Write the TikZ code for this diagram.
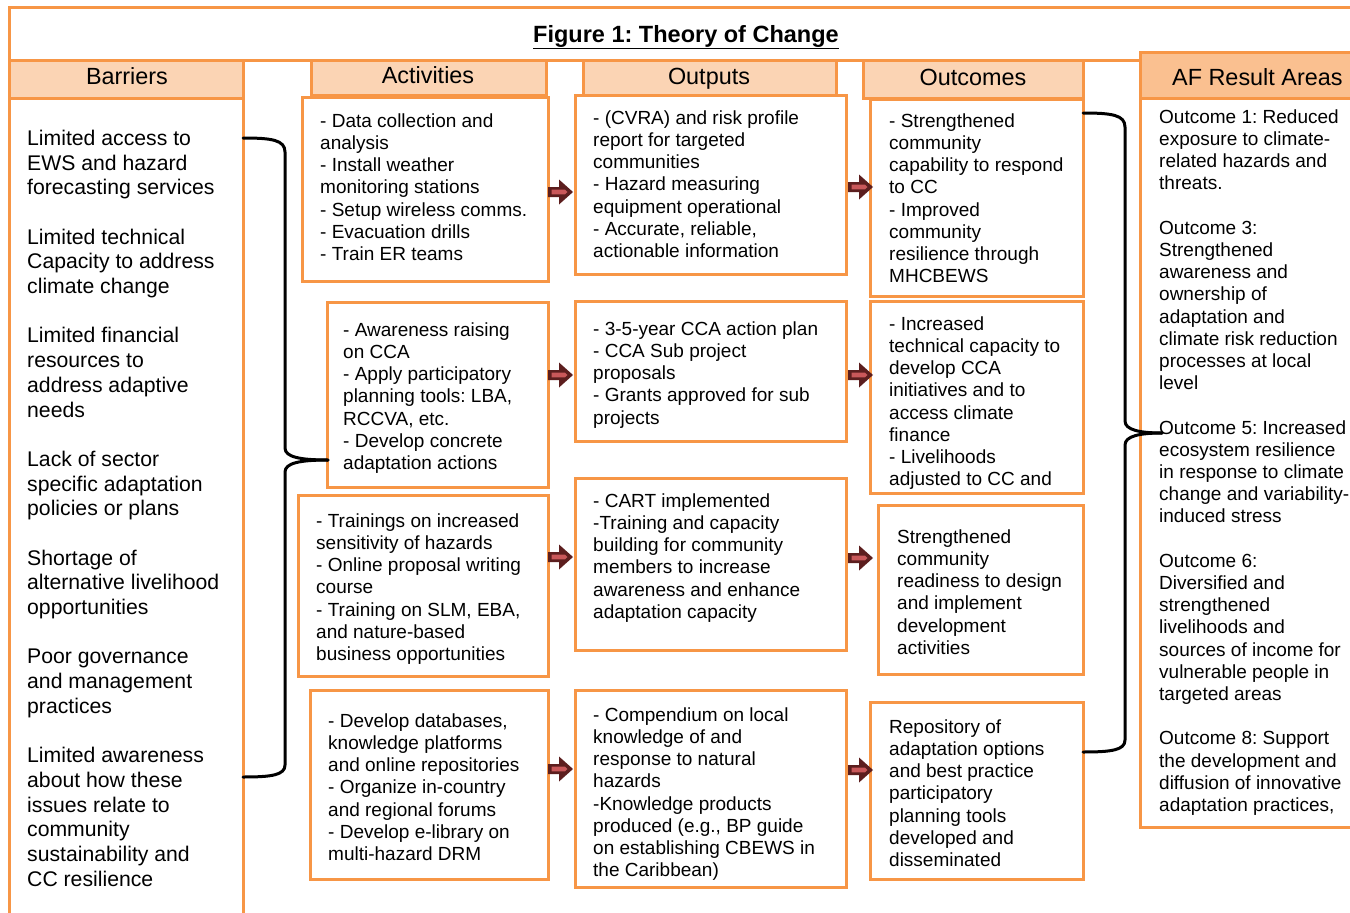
\documentclass[tikz,border=0pt]{standalone}
\usepackage{fontspec}
\setmainfont{Liberation Sans}
\frenchspacing
\definecolor{orangeA}{HTML}{F79646}
\definecolor{peach}{HTML}{FBD4B4}
\definecolor{peachD}{HTML}{FAC090}
\definecolor{arrdark}{HTML}{5C1E1E}
\definecolor{arrlight}{HTML}{C9585A}
\newcommand\boxnode[6][]{\node[bx,#1,minimum width={#4-#2},minimum height={#5-#3}] (#6) at ({(#2+#4)/2},{(#3+#5)/2}) {};}
\newcommand\blockarr[2]{%
  \fill[arrdark] (#1,#2-5) -- (#1+11,#2-5) -- (#1+11,#2-12.5) -- (#1+25,#2) -- (#1+11,#2+12.5) -- (#1+11,#2+5) -- (#1,#2+5) -- cycle;
  \fill[arrlight] (#1+3.5,#2-2.3) -- (#1+17,#2-2.3) -- (#1+19.5,#2) -- (#1+17,#2+2.3) -- (#1+3.5,#2+2.3) -- cycle;}
\begin{document}
\begin{tikzpicture}[x=1pt,y=-1pt,
  bx/.style={draw=orangeA,line width=3pt,fill=white,inner sep=0pt,outer sep=0pt},
  hdr/.style={fill=peach},
  hdrtxt/.style={font=\fontsize{23.4}{27}\selectfont,inner sep=0pt,anchor=base},
  txt/.style={anchor=north west,inner sep=0pt,align=left,font=\fontsize{19}{22.2}\selectfont},
  btxt/.style={anchor=north west,inner sep=0pt,align=left,font=\fontsize{21.2}{24.7}\selectfont},
  brace/.style={draw=black,line width=3pt,line cap=round}]
\clip (0,0) rectangle (1350,913);
\fill[white] (0,0) rectangle (1350,913);
% title frame
\boxnode{9}{7}{1400}{60}{title}
\node[font=\fontsize{23.5}{27}\selectfont\bfseries,inner sep=0pt,anchor=base] (ttl) at (686,42) {\underline{Figure 1: Theory of Change}};
% column bodies
\boxnode{9}{98}{243}{960}{bbody}
\boxnode{1140}{98}{1400}{827}{afbody}
% headers
\boxnode[hdr]{9}{60}{243}{98}{hB}
\boxnode[hdr]{311}{60}{546}{95}{hA}
\boxnode[hdr]{583}{60}{836}{98}{hO}
\boxnode[hdr]{863}{60}{1083}{98}{hC}
\boxnode[fill=peachD]{1140}{52}{1400}{98}{hAF}
\node[hdrtxt] at (127,84) {Barriers};
\node[hdrtxt] at (428,83) {Activities};
\node[hdrtxt] at (709,84) {Outputs};
\node[hdrtxt] at (973,85) {Outcomes};
\node[hdrtxt,anchor=base west] at (1172,85) {AF Result Areas};
% boxes
\boxnode{302}{97}{548}{281}{a1}
\boxnode{327}{302}{548}{487}{a2}
\boxnode{298}{495}{548}{676}{a3}
\boxnode{310}{690}{548}{879}{a4}
\boxnode{575}{95}{846}{274}{o1}
\boxnode{575}{301}{846}{441}{o2}
\boxnode{575}{478}{846}{650}{o3}
\boxnode{575}{690}{846}{887}{o4}
\boxnode{870}{99}{1083}{296}{c1}
\boxnode{870}{301}{1083}{493}{c2}
\boxnode{878}{505}{1083}{674}{c3}
\boxnode{870}{702}{1083}{879}{c4}
% barriers text
\node[btxt] (tb) at (27,127.8) {\strut Limited access to\\EWS and hazard\\forecasting services\\[24.7pt]Limited technical\\Capacity to address\\climate change\\[24.7pt]Limited financial\\resources to\\address adaptive\\needs\\[24.7pt]Lack of sector\\specific adaptation\\policies or plans\\[24.7pt]Shortage of\\alternative livelihood\\opportunities\\[24.7pt]Poor governance\\and management\\practices\\[24.7pt]Limited awareness\\about how these\\issues relate to\\community\\sustainability and\\CC resilience};
% activities text
\node[txt] (ta1) at (320,111.5) {\strut - Data collection and\\analysis\\- Install weather\\monitoring stations\\- Setup wireless comms.\\- Evacuation drills\\- Train ER teams};
\node[txt] (ta2) at (343,320.5) {\strut - Awareness raising\\on CCA\\- Apply participatory\\planning tools: LBA,\\RCCVA, etc.\\- Develop concrete\\adaptation actions};
\node[txt] (ta3) at (316,511.5) {\strut - Trainings on increased\\sensitivity of hazards\\- Online proposal writing\\course\\- Training on SLM, EBA,\\and nature-based\\business opportunities};
\node[txt] (ta4) at (328,711.5) {\strut - Develop databases,\\knowledge platforms\\and online repositories\\- Organize in-country\\and regional forums\\- Develop e-library on\\multi-hazard DRM};
% outputs text
\node[txt] (to1) at (593,108.5) {\strut - (CVRA) and risk profile\\report for targeted\\communities\\- Hazard measuring\\equipment operational\\- Accurate, reliable,\\actionable information};
\node[txt] (to2) at (593,319.5) {\strut - 3-5-year CCA action plan\\- CCA Sub project\\proposals\\- Grants approved for sub\\projects};
\node[txt] (to3) at (593,491.5) {\strut - CART implemented\\-Training and capacity\\building for community\\members to increase\\awareness and enhance\\adaptation capacity};
\node[txt] (to4) at (593,705.5) {\strut - Compendium on local\\knowledge of and\\response to natural\\hazards\\-Knowledge products\\produced (e.g., BP guide\\on establishing CBEWS in\\the Caribbean)};
% outcomes text
\node[txt] (tc1) at (889,111.5) {\strut - Strengthened\\community\\capability to respond\\to CC\\- Improved\\community\\resilience through\\MHCBEWS};
\node[txt] (tc2) at (889,314.5) {\strut - Increased\\technical capacity to\\develop CCA\\initiatives and to\\access climate\\finance\\- Livelihoods\\adjusted to CC and};
\node[txt] (tc3) at (897,527.5) {\strut Strengthened\\community\\readiness to design\\and implement\\development\\activities};
\node[txt] (tc4) at (889,717.5) {\strut Repository of\\adaptation options\\and best practice\\participatory\\planning tools\\developed and\\disseminated};
% AF text
\node[txt] (taf) at (1159,107.5) {\strut Outcome 1: Reduced\\exposure to climate-\\related hazards and\\threats.\\[22.2pt]Outcome 3:\\Strengthened\\awareness and\\ownership of\\adaptation and\\climate risk reduction\\processes at local\\level\\[22.2pt]Outcome 5: Increased\\ecosystem resilience\\in response to climate\\change and variability-\\induced stress\\[22.2pt]Outcome 6:\\Diversified and\\strengthened\\livelihoods and\\sources of income for\\vulnerable people in\\targeted areas\\[22.2pt]Outcome 8: Support\\the development and\\diffusion of innovative\\adaptation practices,};
% block arrows
\blockarr{548}{192}
\blockarr{548}{375}
\blockarr{548}{557}
\blockarr{548}{769}
\blockarr{848}{187}
\blockarr{848}{375}
\blockarr{848}{558}
\blockarr{848}{770}
% braces
\coordinate (lb1) at (243,138);
\coordinate (lbt) at (328,460);
\coordinate (lb2) at (243,777);
\coordinate (rb1) at (1083,113);
\coordinate (rbt) at (1162,433);
\coordinate (rb2) at (1083,752);
\draw[brace] (lb1) .. controls (272,138) and (285,140) .. (285,152) -- (285,448) .. controls (285,457) and (300,460) .. (lbt);
\draw[brace] (lbt) .. controls (300,460) and (285,463) .. (285,472) -- (285,765) .. controls (285,775) and (272,777) .. (lb2);
\draw[brace] (rb1) .. controls (1112,113) and (1125,115) .. (1125,127) -- (1125,421) .. controls (1125,430) and (1140,433) .. (rbt);
\draw[brace] (rbt) .. controls (1140,433) and (1125,436) .. (1125,445) -- (1125,740) .. controls (1125,750) and (1112,752) .. (rb2);
\end{tikzpicture}
\end{document}
